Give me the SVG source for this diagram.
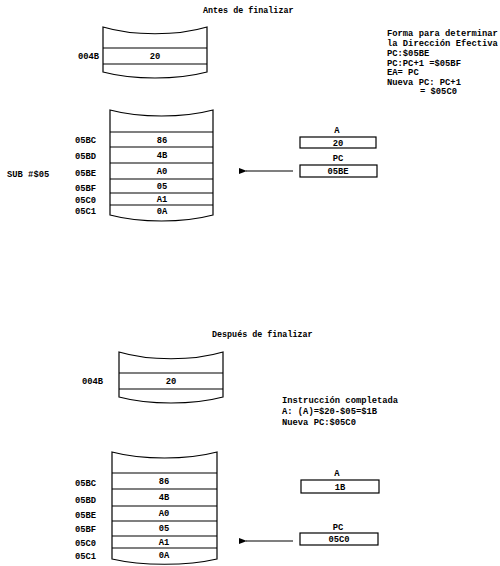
<svg xmlns="http://www.w3.org/2000/svg" width="500" height="566" viewBox="0 0 500 566">
<defs>
<style>
.t{font-family:"Liberation Mono","DejaVu Sans Mono",monospace;font-weight:bold;font-size:8.8px;fill:#000}
.ti{font-family:"Liberation Mono","DejaVu Sans Mono",monospace;font-weight:bold;font-size:8.4px;fill:#000}
.c{text-anchor:middle}
.e{text-anchor:end}
.s{fill:#fff;stroke:#000;stroke-width:1.2}
.l{stroke:#000;stroke-width:1.1;fill:none}
</style>
<marker id="ah" markerWidth="8" markerHeight="6" refX="1" refY="3" orient="auto" markerUnits="userSpaceOnUse">
<path d="M8,0 L0,3 L8,6 Z" fill="#000"/>
</marker>
</defs>
<rect width="500" height="566" fill="#fff"/>

<text class="ti" x="203" y="13">Antes de finalizar</text>

<g id="mem-top-a">
<path class="s" d="M103,27 C133,36 177,36 207,27 L207,72 C177,80 133,80 103,72 Z"/>
<line class="l" x1="103" y1="48" x2="207" y2="48"/>
<line class="l" x1="103" y1="64" x2="207" y2="64"/>
<text class="t c" x="155" y="59">20</text>
<text class="t e" x="99" y="59">004B</text>
</g>

<g id="note-a">
<text class="t" x="387" y="36">Forma para determinar</text>
<text class="t" x="387" y="46">la Dirección Efectiva</text>
<text class="t" x="387" y="56">PC:$05BE</text>
<text class="t" x="387" y="66">PC:PC+1 =$05BF</text>
<text class="t" x="387" y="75">EA= PC</text>
<text class="t" x="387" y="85">Nueva PC: PC+1</text>
<text class="t" x="420" y="94">= $05C0</text>
</g>

<g id="stack-a">
<path class="s" d="M110,110 C140,118 183,118 213,110 L213,215 C183,223 140,223 110,215 Z"/>
<line class="l" x1="110" y1="132" x2="213" y2="132"/>
<line class="l" x1="110" y1="147" x2="213" y2="147"/>
<line class="l" x1="110" y1="163" x2="213" y2="163"/>
<line class="l" x1="110" y1="179" x2="213" y2="179"/>
<line class="l" x1="110" y1="193" x2="213" y2="193"/>
<line class="l" x1="110" y1="205" x2="213" y2="205"/>
<text class="t c" x="162" y="143">86</text>
<text class="t c" x="162" y="158">4B</text>
<text class="t c" x="162" y="174">A0</text>
<text class="t c" x="162" y="189">05</text>
<text class="t c" x="162" y="202">A1</text>
<text class="t c" x="162" y="214">0A</text>
<text class="t" x="75" y="143">05BC</text>
<text class="t" x="75" y="159">05BD</text>
<text class="t" x="75" y="176">05BE</text>
<text class="t" x="75" y="191">05BF</text>
<text class="t" x="75" y="203">05C0</text>
<text class="t" x="75" y="214">05C1</text>
<text class="t" x="7" y="177">SUB #$05</text>
</g>

<g id="reg-a-1">
<text class="t c" x="337" y="133">A</text>
<rect class="s" x="300" y="137" width="76" height="11"/>
<text class="t c" x="338" y="146">20</text>
</g>
<g id="reg-pc-1">
<text class="t c" x="338" y="161">PC</text>
<rect class="s" x="300" y="165" width="77" height="12"/>
<text class="t c" x="338" y="174">05BE</text>
</g>

<text class="ti" x="212" y="337">Después de finalizar</text>

<g id="mem-top-b">
<path class="s" d="M119,352 C149,361 193,361 223,352 L223,397 C193,405 149,405 119,397 Z"/>
<line class="l" x1="119" y1="373" x2="223" y2="373"/>
<line class="l" x1="119" y1="389" x2="223" y2="389"/>
<text class="t c" x="171" y="384">20</text>
<text class="t e" x="103" y="384">004B</text>
</g>

<g id="note-b">
<text class="t" x="282" y="403">Instrucción completada</text>
<text class="t" x="282" y="414">A: (A)=$20-$05=$1B</text>
<text class="t" x="282" y="425">Nueva PC:$05C0</text>
</g>

<g id="stack-b">
<path class="s" d="M112,452 C142,460 187,460 217,452 L217,559 C187,566 142,566 112,559 Z"/>
<line class="l" x1="112" y1="473" x2="217" y2="473"/>
<line class="l" x1="112" y1="489" x2="217" y2="489"/>
<line class="l" x1="112" y1="506" x2="217" y2="506"/>
<line class="l" x1="112" y1="521" x2="217" y2="521"/>
<line class="l" x1="112" y1="536" x2="217" y2="536"/>
<line class="l" x1="112" y1="548" x2="217" y2="548"/>
<text class="t c" x="164" y="484">86</text>
<text class="t c" x="164" y="500">4B</text>
<text class="t c" x="164" y="516">A0</text>
<text class="t c" x="164" y="531">05</text>
<text class="t c" x="164" y="545">A1</text>
<text class="t c" x="164" y="558">0A</text>
<text class="t" x="75" y="486">05BC</text>
<text class="t" x="75" y="503">05BD</text>
<text class="t" x="75" y="518">05BE</text>
<text class="t" x="75" y="532">05BF</text>
<text class="t" x="75" y="546">05C0</text>
<text class="t" x="75" y="559">05C1</text>
</g>

<g id="reg-a-2">
<text class="t c" x="337" y="476">A</text>
<rect class="s" x="301" y="480" width="78" height="13"/>
<text class="t c" x="340" y="490">1B</text>
</g>
<g id="reg-pc-2">
<text class="t c" x="338" y="530">PC</text>
<rect class="s" x="300" y="533" width="78" height="12"/>
<text class="t c" x="339" y="542">05C0</text>
</g>

<g id="connectors">
<line class="l" x1="293" y1="171" x2="246" y2="171" marker-end="url(#ah)"/>
<line class="l" x1="293" y1="541" x2="246" y2="541" marker-end="url(#ah)"/>
</g>
</svg>
